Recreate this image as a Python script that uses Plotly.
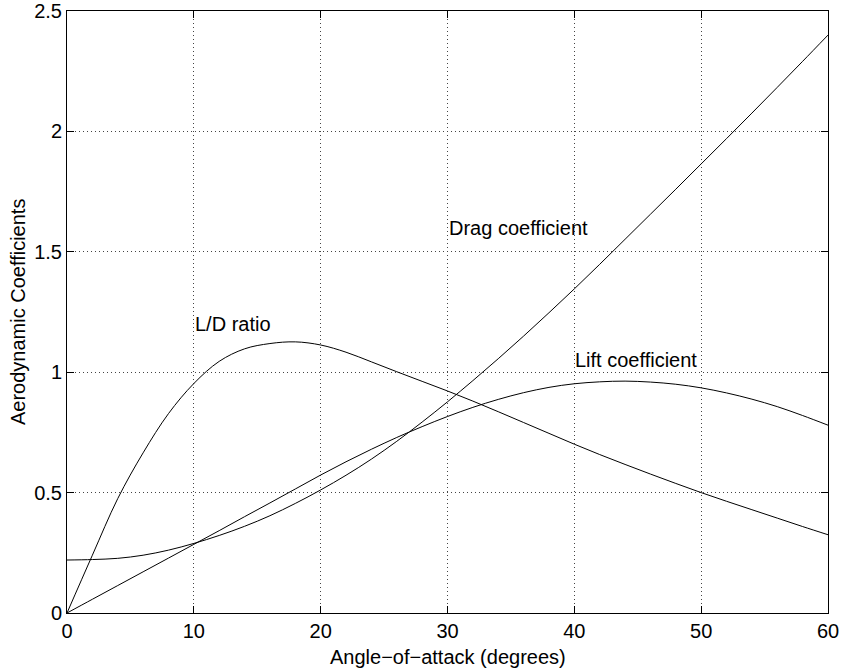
import plotly.graph_objects as go

# Angle-of-attack samples (degrees)
alpha = [0, 2, 4, 6, 8, 10, 12, 14, 16, 18, 20, 22, 24, 26, 28, 30,
         32, 34, 36, 38, 40, 42, 44, 46, 48, 50, 52, 54, 56, 58, 60]

# Coefficient readings
lift = [0, 0.057, 0.114, 0.171, 0.228, 0.285, 0.342, 0.400, 0.457, 0.515, 0.573,
        0.628, 0.680, 0.729, 0.774, 0.816, 0.854, 0.887, 0.915, 0.937, 0.952,
        0.960, 0.963, 0.959, 0.950, 0.935, 0.914, 0.888, 0.857, 0.820, 0.780]

drag = [0.220, 0.222, 0.227, 0.240, 0.261, 0.289, 0.322, 0.360, 0.404, 0.455, 0.511,
        0.572, 0.639, 0.713, 0.793, 0.877, 0.965, 1.056, 1.150, 1.247, 1.346,
        1.448, 1.552, 1.656, 1.760, 1.865, 1.970, 2.076, 2.183, 2.291, 2.400]

ld_ratio = [0, 0.240, 0.475, 0.665, 0.828, 0.953, 1.045, 1.097, 1.119, 1.126, 1.113,
            1.083, 1.043, 1.002, 0.962, 0.922, 0.880, 0.836, 0.791, 0.746, 0.701,
            0.658, 0.617, 0.577, 0.538, 0.500, 0.464, 0.429, 0.394, 0.359, 0.325]

labels = ["L/D ratio", "Drag coefficient", "Lift coefficient"]
label_x = [10, 30, 40]
label_y = [1.2, 1.6, 1.05]

x_ticks = [0, 10, 20, 30, 40, 50, 60]
y_ticks = [0, 0.5, 1, 1.5, 2, 2.5]
y_tick_text = ["0", "0.5", "1", "1.5", "2", "2.5"]

FONT = "Liberation Sans, Arial, Helvetica, sans-serif"
FS = 20

fig = go.Figure()
for ys in [lift, drag, ld_ratio]:
    fig.add_trace(go.Scatter(x=alpha, y=ys, mode="lines",
                             line=dict(color="black", width=1, shape="spline", smoothing=1.0),
                             showlegend=False, hoverinfo="skip", cliponaxis=False))

for t, x, y in zip(labels, label_x, label_y):
    fig.add_annotation(x=x, y=y, xref="x", yref="y", text=t, showarrow=False,
                       xanchor="left", yanchor="middle", borderpad=0,
                       font=dict(family=FONT, size=FS, color="black"))

fig.add_annotation(x=0.5, y=0, xref="paper", yref="paper", text="Angle\u2212of\u2212attack (degrees)",
                   showarrow=False, xanchor="center", yanchor="middle", yshift=-44,
                   font=dict(family=FONT, size=FS, color="black"))
fig.add_annotation(x=0, y=0.5, xref="paper", yref="paper", text="Aerodynamic Coefficients",
                   showarrow=False, xanchor="center", yanchor="middle", xshift=-49, textangle=-90,
                   font=dict(family=FONT, size=FS, color="black"))

axis_common = dict(showline=True, linecolor="black", linewidth=1, mirror="ticks",
                   ticks="inside", ticklen=7, tickcolor="black", tickwidth=1,
                   showgrid=True, gridcolor="#444", gridwidth=1, griddash="1px,3px",
                   zeroline=False, automargin=False,
                   tickfont=dict(family=FONT, size=FS, color="black"))

fig.update_xaxes(range=[0, 60], tickvals=x_ticks, **axis_common)
fig.update_yaxes(range=[0, 2.5], tickvals=y_ticks, ticktext=y_tick_text, **axis_common)

fig.update_layout(width=843, height=668, paper_bgcolor="white", plot_bgcolor="white",
                  margin=dict(l=67, r=15, t=11, b=55, autoexpand=False), font=dict(family=FONT))

fig.write_html("out.html")
